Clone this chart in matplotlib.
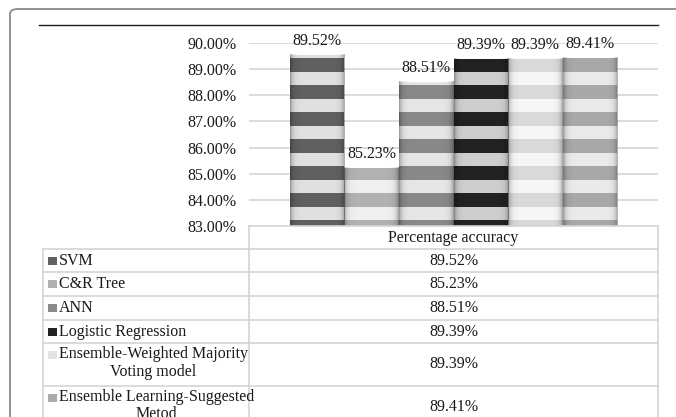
import numpy as np
import matplotlib
matplotlib.use("Agg")
import matplotlib.pyplot as plt
from matplotlib.lines import Line2D
from matplotlib.patches import FancyBboxPatch, Rectangle

# accuracy of each model (%)
models = ["SVM", "C&R Tree", "ANN", "Logistic Regression",
          "Ensemble-Weighted Majority\nVoting model",
          "Ensemble Learning-Suggested\nMetod"]
accuracy = [89.52, 85.23, 88.51, 89.39, 89.39, 89.41]
category = "Percentage accuracy"
yticks = [83, 84, 85, 86, 87, 88, 89, 90]

# two-tone striped fill for each series (band colour, base colour)
band_colors = ["#606060", "#b1b1b1", "#888888", "#222222", "#d9d9d9", "#a8a8a8"]
base_colors = ["#e0e0e0", "#efefef", "#e6e6e6", "#cecece", "#f6f6f6", "#eaeaea"]
key_colors = ["#606060", "#b0b0b0", "#8a8a8a", "#222222", "#e2e2e2", "#aaaaaa"]

W, H = 676, 417
FS = 11.5
TXT = "#1a1a1a"
plt.rcParams["font.family"] = ["Liberation Serif", "DejaVu Serif"]


def fx(x):
    return x / W


def fy(y):
    return 1 - y / H


def hline(fig, x0, x1, y, color, lw=1.2):
    fig.add_artist(Line2D([fx(x0), fx(x1)], [fy(y), fy(y)], color=color, lw=lw))


def vline(fig, x, y0, y1, color, lw=1.2):
    fig.add_artist(Line2D([fx(x), fx(x)], [fy(y0), fy(y1)], color=color, lw=lw))


fig = plt.figure(figsize=(W / 100, H / 100), dpi=100)

# rounded frame around the whole chart (runs off the right/bottom edge)
frame = FancyBboxPatch((fx(10), fy(460)), fx(700) - fx(10), fy(9) - fy(460),
                       boxstyle="round,pad=0,rounding_size=0.012",
                       transform=fig.transFigure, fill=False,
                       edgecolor="#8a8a8a", lw=1.3)
fig.add_artist(frame)
hline(fig, 39, 658, 25, TXT, lw=1.0)

# plot area
left, right, top, bottom = 249, 658, 42.7, 226.5
ax = fig.add_axes([fx(left), fy(bottom), fx(right) - fx(left), fy(top) - fy(bottom)])
for s in ax.spines.values():
    s.set_visible(False)
ax.set_xticks([])
ax.set_yticks(yticks)
ax.set_yticklabels([f"{v:.2f}%" for v in yticks], fontsize=FS, color=TXT)
ax.tick_params(axis="y", length=0, pad=9)
ax.grid(axis="y", color="#d9d9d9", lw=1.3)
ax.set_axisbelow(True)

positions = np.arange(len(models)) - 2.5
period = 1.025
band_tops = 83.266 + period * np.arange(8)
band_h = 0.53

for i, (x, val) in enumerate(zip(positions, accuracy)):
    ax.bar(x, val - 83, bottom=83, width=1.0, color=base_colors[i], zorder=2)
    for t in band_tops:
        b0, b1 = max(t - band_h, 83), min(t, val)
        if b1 > b0:
            ax.bar(x, b1 - b0, bottom=b0, width=1.0, color=band_colors[i],
                   zorder=3, linewidth=0)
    # soft shading along the bar sides
    n = 60
    d = np.minimum(np.arange(n), np.arange(n)[::-1]) / n
    shade = np.zeros((1, n, 4))
    shade[0, :, 3] = 0.32 * np.exp(-d / 0.045)
    ax.imshow(shade, extent=(x - 0.5, x + 0.5, 83, val), aspect="auto",
              interpolation="bilinear", zorder=4)
    ax.annotate(f"{val:.2f}%", (x, val), xytext=(0, 4.3),
                textcoords="offset points", ha="center", va="bottom",
                fontsize=FS, color=TXT, zorder=5)

ax.set_xlim(-3.75, 3.75)
ax.set_ylim(83, 90)

# data table under the chart
grid_c = "#d4d4d4"
rows = [249, 272.3, 296, 320, 343.3, 385.7, 429]
hline(fig, 249, 658, 226, grid_c)
hline(fig, 43, 658, rows[0], grid_c)
for y in rows[1:]:
    hline(fig, 43, 658, y, grid_c)
vline(fig, 43, rows[0], 440, grid_c)
vline(fig, 249, 226, 440, grid_c)
vline(fig, 658, 226, 440, grid_c)

fig.text(fx(453.5), fy(237.5), category, ha="center", va="center",
         fontsize=FS, color=TXT)
for i, name in enumerate(models):
    y0, y1 = rows[i], rows[i + 1]
    if "\n" in name:
        # two-line names: first line sits near the top of the row
        ky = y0 + 12
        fig.text(fx(59), fy(y0 + 3), name, ha="left", va="top", fontsize=FS,
                 color=TXT, multialignment="center", linespacing=1.1)
    else:
        ky = (y0 + y1) / 2
        fig.text(fx(59), fy(ky), name, ha="left", va="center", fontsize=FS,
                 color=TXT)
    fig.add_artist(Rectangle((fx(48), fy(ky + 4)), fx(9), fy(0) - fy(8),
                             transform=fig.transFigure,
                             facecolor=key_colors[i], edgecolor="none"))
    fig.text(fx(453.5), fy((y0 + y1) / 2), f"{accuracy[i]:.2f}%",
             ha="center", va="center", fontsize=FS, color=TXT)

fig.savefig("out.png", dpi=100)
